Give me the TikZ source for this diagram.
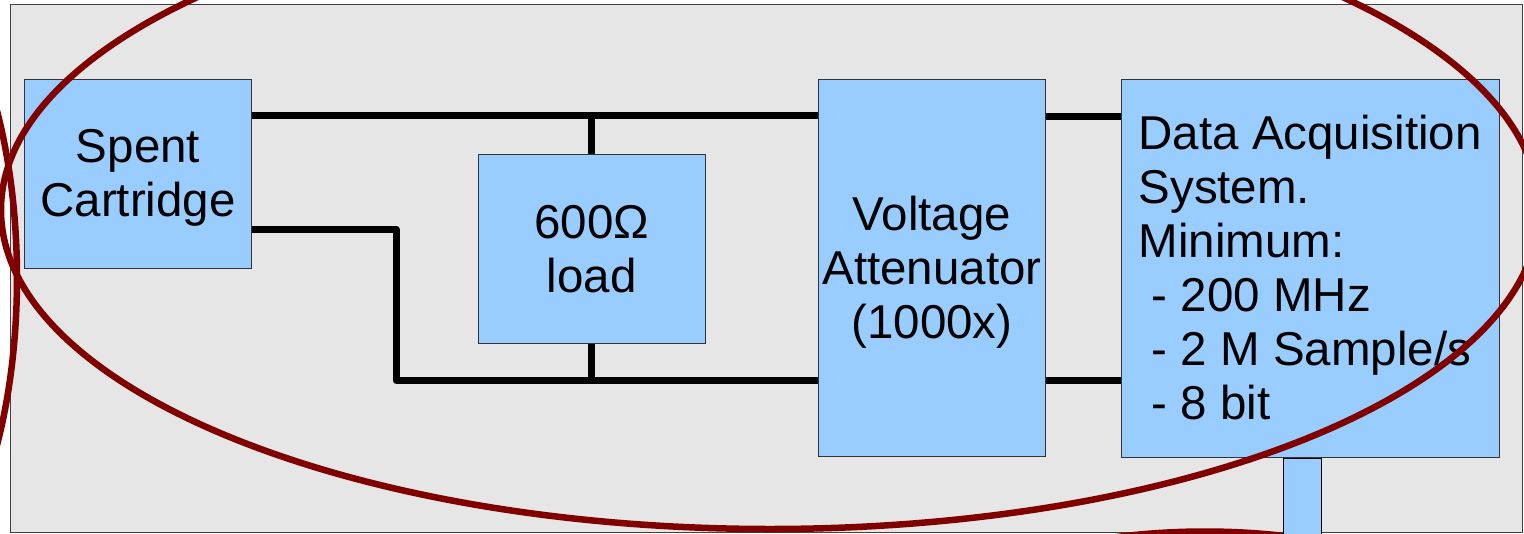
\documentclass[tikz,border=0pt]{standalone}
\usepackage{fontspec}
\setmainfont{Liberation Sans}
\definecolor{bgc}{HTML}{E6E6E6}
\definecolor{boxc}{HTML}{99CCFF}
\definecolor{ellc}{HTML}{800000}
\newcommand{\ascS}{\rule{0pt}{43pt}}
\newcommand{\desS}{\rule[-11pt]{0pt}{11pt}}
\begin{document}
\begin{tikzpicture}[x=1pt,y=-1pt,
  blk/.style={draw=black!80, line width=1pt, fill=boxc, inner sep=0pt,
    font=\fontsize{47.5}{54}\selectfont, align=center},
  wire/.style={line width=7pt, line join=round, line cap=butt},
  redline/.style={draw=ellc, line width=6.5pt}]
\useasboundingbox (0,0) rectangle (1524,533);
\clip (0,0) rectangle (1524,533);
\node[draw=black!75, fill=bgc, line width=1pt, minimum width=1512pt,
  minimum height=528.5pt, inner sep=0pt, anchor=north west] (bg) at (9.5,3.5) {};
% boxes
\node[blk, minimum width=227.4pt, minimum height=188.8pt] (spent) at (138,173.6)
  {\ascS Spent\\Cartridge\desS};
\node[blk, minimum width=227pt, minimum height=189pt] (load) at (591.8,249.2)
  {\ascS 600Ω\\load\desS};
\node[blk, minimum width=226.3pt, minimum height=377.4pt] (att) at (931.9,268)
  {\ascS Voltage\\Attenuator\\(1000x)\desS};
\node[blk, minimum width=377.7pt, minimum height=378.3pt, align=left] (daq) at (1310.2,268.3)
  {\ascS Data Acquisition\\System.\\Minimum:\\\hspace*{0.278em}- 200 MHz\\\hspace*{0.278em}- 2 M Sample/s\\\hspace*{0.278em}- 8 bit\desS};
% wires
\coordinate (tl) at ([yshift=58pt]spent.east);
\coordinate (bend) at (396,380.5);
\draw[wire] (tl) -- (tl -| att.west);
\draw[wire] ([yshift=152pt]att.east) -- ([yshift=152pt]att.east -| daq.west);
\draw[wire] (load.north) -- (load.north |- tl);
\draw[wire] ([yshift=-55.4pt]spent.east) -| (bend) -- (bend -| att.west);
\draw[wire] (load.south) -- (load.south |- bend);
\draw[wire] (att.east |- bend) -- (daq.west |- bend);
% arc at bottom right, then stub
\draw[redline] (1205,781.5) ellipse [x radius=420, y radius=250];
\node[draw=black, line width=1pt, fill=boxc, minimum width=37.3pt,
  minimum height=90pt, inner sep=0pt, anchor=north] (stub) at (1302.4,457.5) {};
% red ellipses
\draw[redline] (770,210) ellipse [x radius=769, y radius=319];
\draw[redline] (-120,278) ellipse [x radius=137, y radius=321];
\end{tikzpicture}
\end{document}
